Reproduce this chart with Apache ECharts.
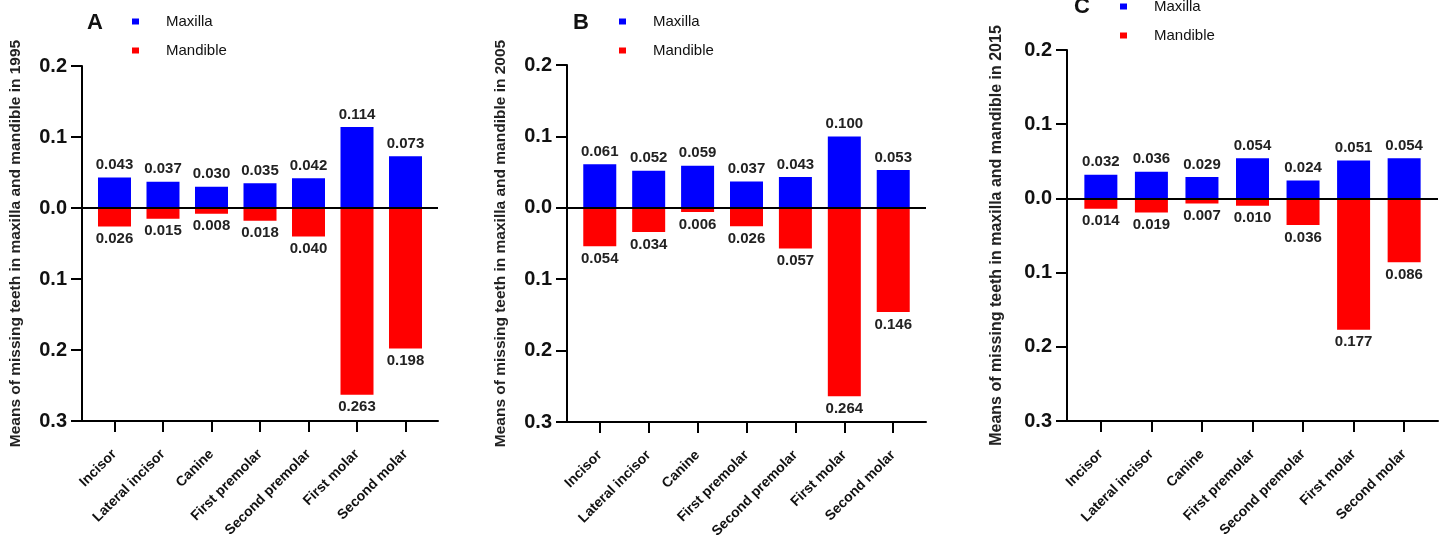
<!DOCTYPE html>
<html>
<head>
<meta charset="utf-8">
<script src="https://cdn.jsdelivr.net/npm/echarts@6/dist/echarts.min.js"></script>
<style>
html,body{margin:0;padding:0;background:#fff;}
#chart{width:1445px;height:541px;}
</style>
</head>
<body>
<div id="chart"></div>
<script>
const categories = ['Incisor','Lateral incisor','Canine','First premolar','Second premolar','First molar','Second molar'];
const panelLetters = ['A','B','C'];
const years = ['1995','2005','2015'];
const seriesNames = ['Maxilla','Mandible'];
const maxilla1995 = [0.043,0.037,0.030,0.035,0.042,0.114,0.073];
const mandible1995 = [0.026,0.015,0.008,0.018,0.040,0.263,0.198];
const maxilla2005 = [0.061,0.052,0.059,0.037,0.043,0.100,0.053];
const mandible2005 = [0.054,0.034,0.006,0.026,0.057,0.264,0.146];
const maxilla2015 = [0.032,0.036,0.029,0.054,0.024,0.051,0.054];
const mandible2015 = [0.014,0.019,0.007,0.010,0.036,0.177,0.086];
const yMin = -0.3, yMax = 0.2, yInterval = 0.1;

const FONT = '"Liberation Sans", Arial, Helvetica, sans-serif';
const BLUE = '#0000ff', RED = '#ff0000', INK = '#111';

const maxillaData = [maxilla1995, maxilla2005, maxilla2015];
const mandibleData = [mandible1995, mandible2005, mandible2015];

const layout = [
  {grid:{left:82, top:66, width:356, height:355}, letter:{left:87, top:12}, legend:{left:127, top:9}, nameSize:15.5, nameGap:58},
  {grid:{left:567, top:65, width:359, height:357}, letter:{left:573, top:12}, legend:{left:614, top:9}, nameSize:15.5, nameGap:58},
  {grid:{left:1067, top:50, width:371, height:371}, letter:{left:1074, top:-4}, legend:{left:1115, top:-6}, nameSize:16, nameGap:62}
];

const idx = categories.map((c,i)=>i);
const option = {
  animation:false,
  backgroundColor:'#fff',
  textStyle:{fontFamily:FONT},
  title: layout.map((l,p)=>({text:panelLetters[p], left:l.letter.left, top:l.letter.top, padding:0,
    textStyle:{fontFamily:FONT, fontSize:22, fontWeight:'bold', color:INK}})),
  legend: layout.map((l,p)=>({data:seriesNames, orient:'vertical', left:l.legend.left, top:l.legend.top,
    itemWidth:7, itemHeight:6, itemGap:14, icon:'rect', selectedMode:false,
    textStyle:{fontFamily:FONT, fontSize:15, color:INK, padding:[0,0,0,22]}})),
  grid: layout.map(l=>Object.assign({containLabel:false}, l.grid)),
  xAxis: layout.map((l,p)=>({
    gridIndex:p, type:'value', min:-0.67, max:6.67,
    splitLine:{show:false},
    axisLine:{onZero:false, lineStyle:{color:'#000', width:2}},
    axisTick:{show:true, length:11, lineStyle:{color:'#000', width:2}, customValues:idx},
    axisLabel:{customValues:idx, rotate:45, margin:31, fontFamily:FONT, fontSize:14, fontWeight:'bold', color:INK,
      formatter:v=>categories[Math.round(v)]}
  })),
  yAxis: layout.map((l,p)=>({
    gridIndex:p, type:'value', min:yMin, max:yMax, interval:yInterval,
    name:'Means of missing teeth in maxilla and mandible in '+years[p],
    nameLocation:'middle', nameGap:l.nameGap, nameRotate:90,
    nameTextStyle:{fontFamily:FONT, fontSize:l.nameSize, fontWeight:'bold', color:'#222'},
    splitLine:{show:false},
    axisLine:{show:true, onZero:false, lineStyle:{color:'#000', width:2}},
    axisTick:{show:true, length:11, lineStyle:{color:'#000', width:2}},
    axisLabel:{margin:15, fontFamily:FONT, fontSize:20, fontWeight:'bold', color:INK,
      formatter:v=>Math.abs(v).toFixed(1)}
  })),
  series: []
};
layout.forEach((l,p)=>{
  option.series.push({
    name:'Maxilla', type:'bar', xAxisIndex:p, yAxisIndex:p, barWidth:33, barGap:'-100%',
    itemStyle:{color:BLUE},
    data: maxillaData[p].map((v,i)=>[i, v]),
    label:{show:true, position:'top', distance:5, fontFamily:FONT, fontSize:15, fontWeight:'bold', color:'#222',
      formatter:d=>Math.abs(d.value[1]).toFixed(3)},
    markLine:{silent:true, symbol:'none', label:{show:false}, lineStyle:{color:'#000', width:2, type:'solid'},
      data:[{yAxis:0}], z:10}
  });
  option.series.push({
    name:'Mandible', type:'bar', xAxisIndex:p, yAxisIndex:p, barWidth:33, barGap:'-100%',
    itemStyle:{color:RED},
    data: mandibleData[p].map((v,i)=>[i, -v]),
    label:{show:true, position:'bottom', distance:5, fontFamily:FONT, fontSize:15, fontWeight:'bold', color:'#222',
      formatter:d=>Math.abs(d.value[1]).toFixed(3)}
  });
});
const chart = echarts.init(document.getElementById('chart'), null, {renderer:'canvas'});
chart.setOption(option);
</script>
</body>
</html>
